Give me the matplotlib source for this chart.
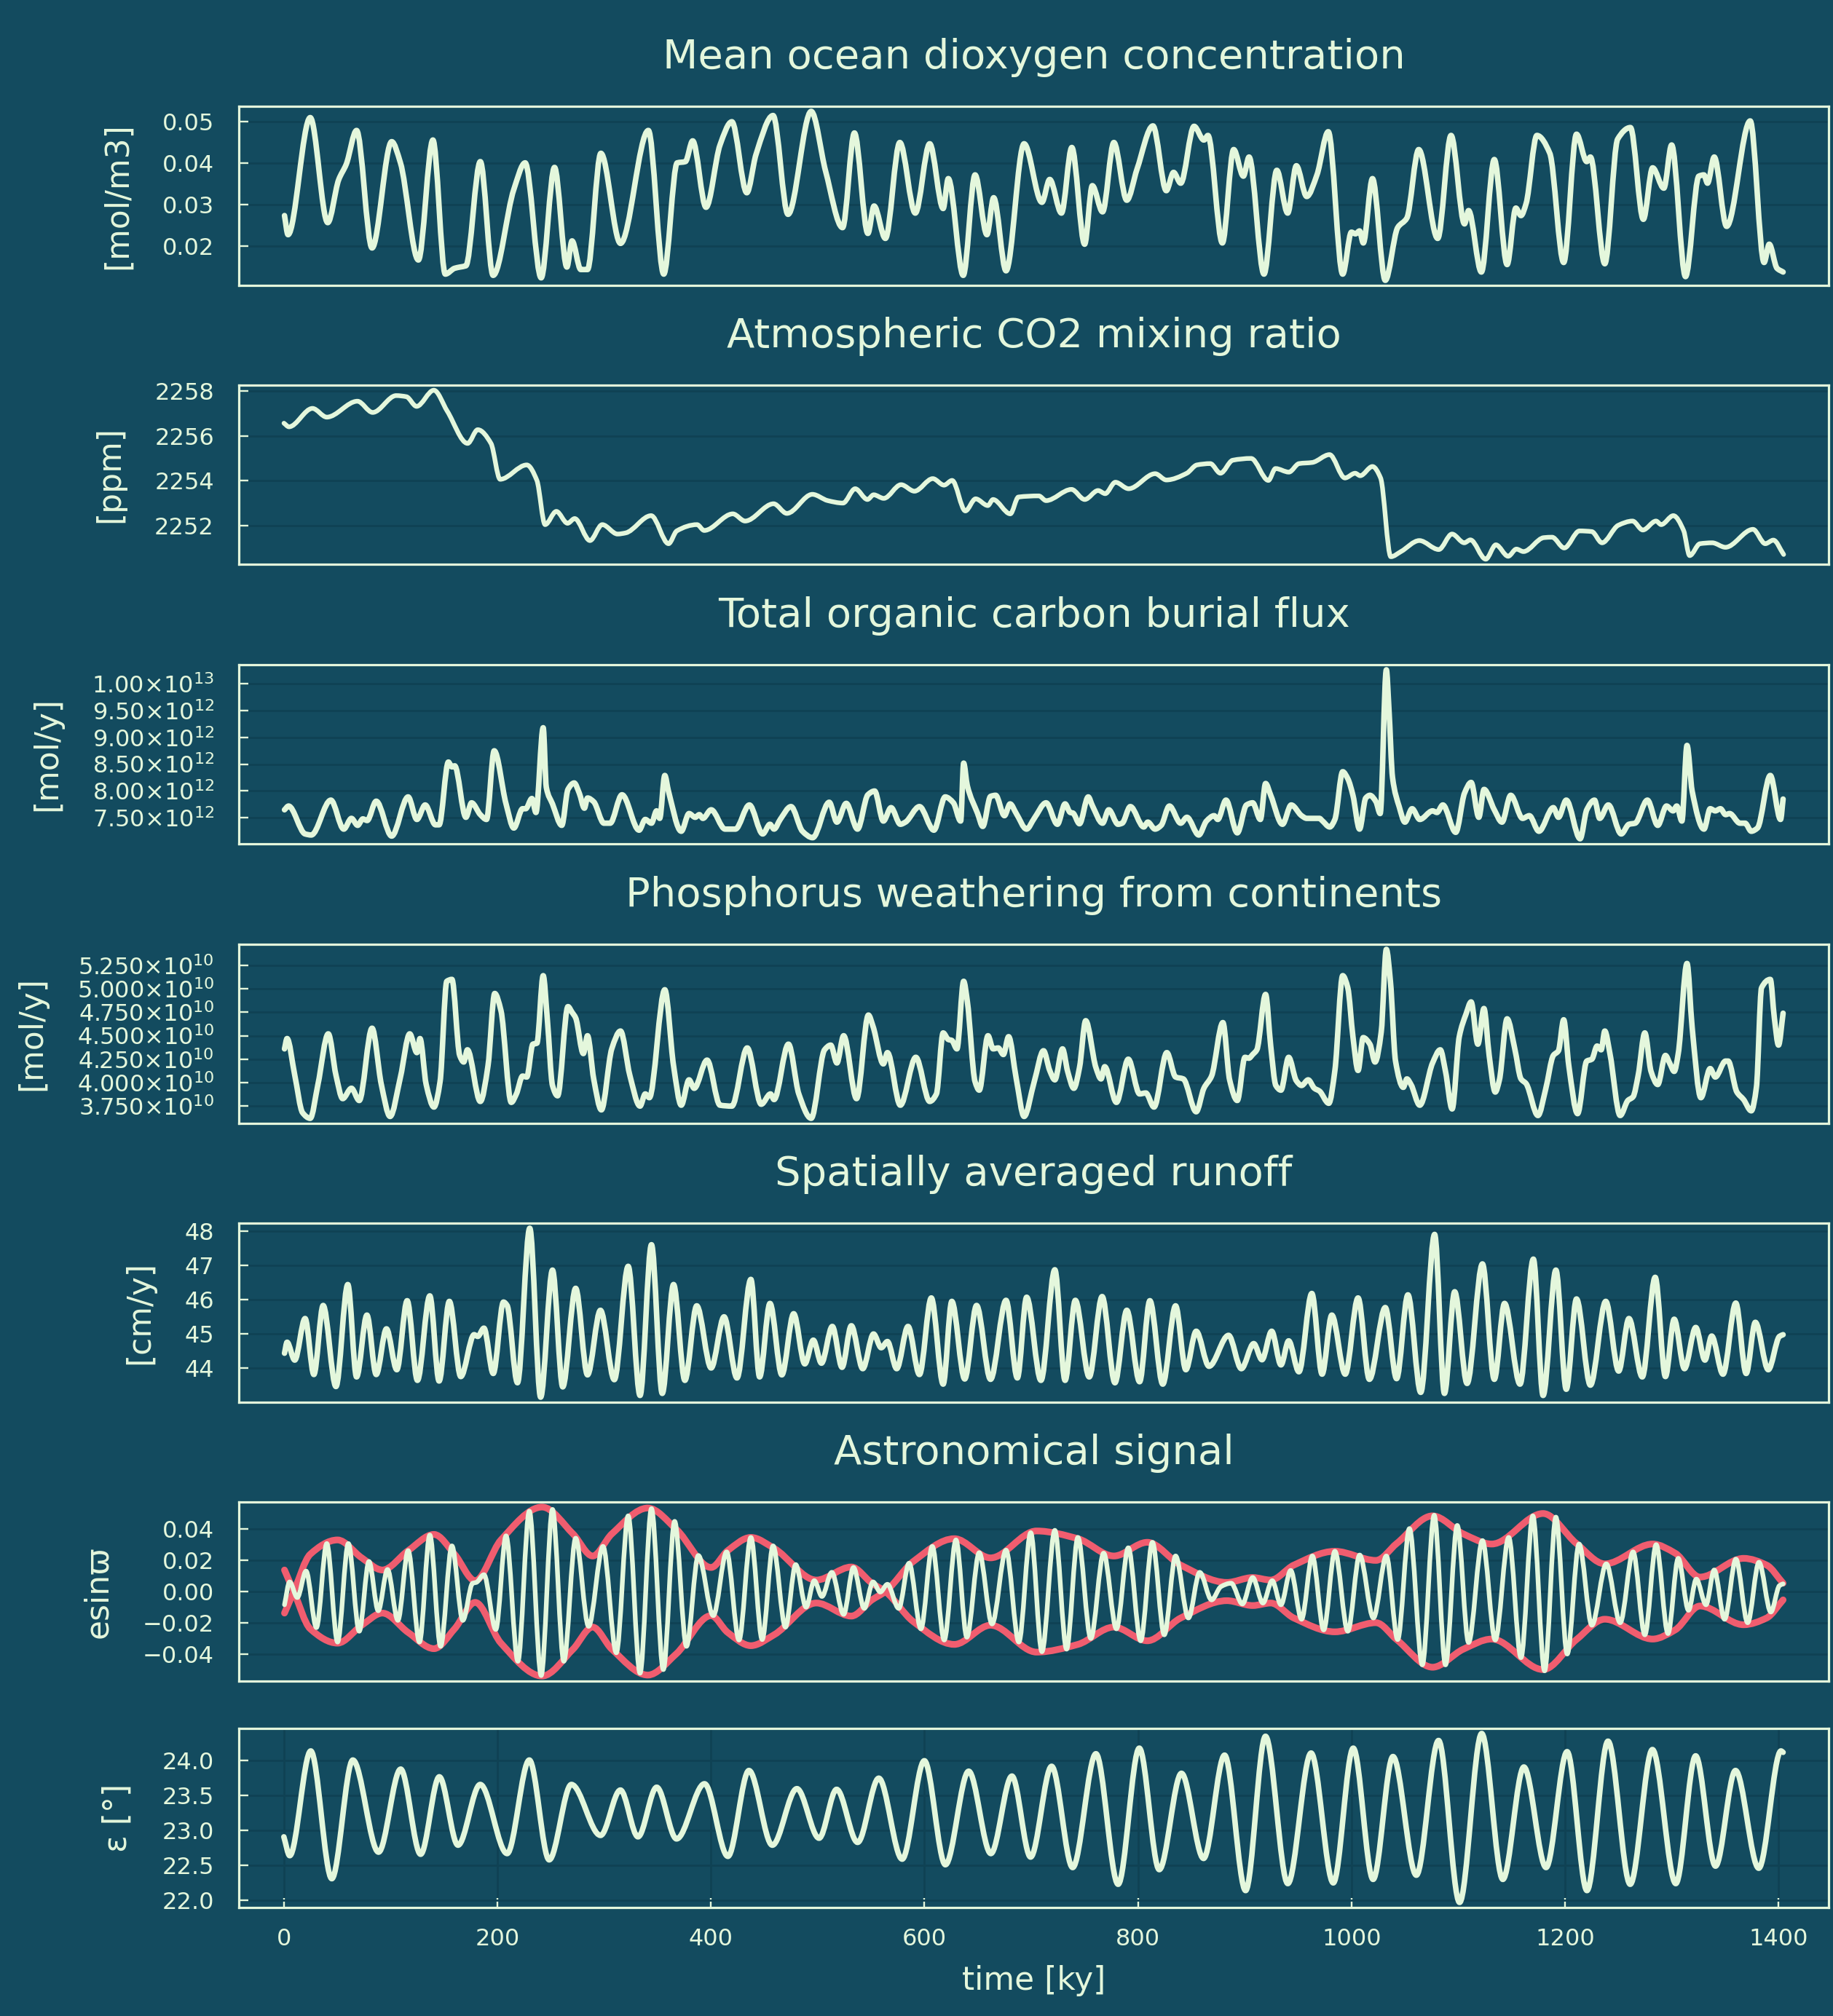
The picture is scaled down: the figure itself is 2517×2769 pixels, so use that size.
import numpy as np
import matplotlib
matplotlib.use("Agg")
import matplotlib.pyplot as plt
from matplotlib.ticker import FixedLocator, FuncFormatter
from matplotlib.path import Path
from matplotlib.patches import PathPatch

BG = '#134b5f'
FG = '#e4f7dc'
RED = '#f05d6f'
GRID = '#0f4254'

# ---- data (time in ky) ----
o2_t = [0.6, 3.9, 24.7, 41.1, 51.3, 58.5, 68.1, 82.6, 101.0, 109.2, 126.0, 139.6, 151.2, 159.9, 165.0, 170.5,
        184.0, 196.0, 215.4, 226.0, 241.0, 253.5, 265.1, 269.9, 278.1, 284.4, 296.9, 315.3, 341.4, 355.8, 368.4,
        376.1, 382.9, 395.4, 408.5, 419.6, 433.6, 442.2, 458.2, 472.2, 493.9, 507.4, 523.3, 534.4, 547.0, 552.8,
        563.4, 576.9, 591.4, 604.9, 617.5, 622.3, 636.3, 647.4, 658.5, 664.8, 676.4, 693.3, 710.0, 717.3, 728.3,
        738.0, 750.0, 757.2, 766.8, 777.4, 789.5, 799.1, 814.0, 826.5, 833.3, 840.0, 852.5, 861.7, 865.5, 879.0,
        889.6, 898.7, 904.0, 918.0, 930.0, 940.2, 948.3, 958.0, 967.6, 978.2, 991.7, 999.9, 1003.7, 1007.5,
        1011.0, 1019.6, 1031.6, 1043.2, 1051.8, 1062.9, 1080.7, 1093.2, 1105.8, 1109.6, 1121.6, 1133.7, 1145.7,
        1153.9, 1158.7, 1163.5, 1173.6, 1185.7, 1198.7, 1210.7, 1220.3, 1223.7, 1237.2, 1249.2, 1261.2, 1273.3,
        1282.0, 1292.5, 1299.8, 1312.8, 1325.3, 1330.0, 1333.4, 1339.7, 1351.3, 1373.4, 1386.4, 1391.2, 1398.5,
        1404.2]
o2_v = [0.0274, 0.0228, 0.0510, 0.0257, 0.0360, 0.0398, 0.0479, 0.0196, 0.0452, 0.0401, 0.0167, 0.0456, 0.0133,
        0.0147, 0.0150, 0.0153, 0.0404, 0.0130, 0.0337, 0.0401, 0.0124, 0.0390, 0.0150, 0.0213, 0.0144, 0.0144,
        0.0424, 0.0207, 0.0479, 0.0133, 0.0401, 0.0404, 0.0454, 0.0294, 0.0444, 0.0500, 0.0329, 0.0421, 0.0515,
        0.0277, 0.0525, 0.0381, 0.0245, 0.0473, 0.0231, 0.0297, 0.0219, 0.0450, 0.0280, 0.0447, 0.0291, 0.0363,
        0.0130, 0.0372, 0.0228, 0.0317, 0.0141, 0.0447, 0.0306, 0.0361, 0.0280, 0.0438, 0.0205, 0.0346, 0.0283,
        0.0450, 0.0311, 0.0386, 0.0490, 0.0334, 0.0378, 0.0352, 0.0489, 0.0456, 0.0467, 0.0208, 0.0433, 0.0369,
        0.0415, 0.0133, 0.0383, 0.0280, 0.0394, 0.0320, 0.0372, 0.0476, 0.0133, 0.0234, 0.0230, 0.0237, 0.0208,
        0.0363, 0.0118, 0.0245, 0.0268, 0.0433, 0.0219, 0.0467, 0.0254, 0.0286, 0.0138, 0.0409, 0.0156, 0.0292,
        0.0274, 0.0303, 0.0467, 0.0424, 0.0161, 0.0470, 0.0404, 0.0415, 0.0158, 0.0458, 0.0486, 0.0265, 0.0389,
        0.0340, 0.0444, 0.0127, 0.0369, 0.0372, 0.0352, 0.0415, 0.0248, 0.0502, 0.0161, 0.0205, 0.0147, 0.0138]

co2_t = [0.1, 4.8, 26.8, 40.2, 68.9, 83.2, 105.2, 114.8, 124.3, 140.5, 153.0, 172.1, 181.6, 194.0, 202.6, 227.5,
         237.0, 244.7, 255.2, 265.7, 272.4, 286.7, 298.2, 312.5, 320.1, 344.0, 360.3, 368.0, 387.0, 393.7, 420.5,
         432.0, 458.7, 471.1, 495.0, 509.4, 523.7, 535.1, 546.6, 552.4, 561.9, 578.1, 590.6, 607.8, 618.3, 625.9,
         638.3, 647.9, 659.4, 664.2, 680.4, 688.0, 707.1, 713.9, 737.7, 750.1, 762.6, 769.3, 778.8, 791.2, 816.1,
         826.5, 845.7, 855.2, 867.7, 877.2, 888.7, 905.9, 922.1, 928.8, 941.3, 950.8, 963.2, 979.4, 993.8, 1003.4,
         1008.1, 1019.6, 1027.2, 1036.8, 1046.3, 1063.5, 1081.7, 1094.1, 1105.6, 1111.3, 1125.7, 1135.2, 1146.7,
         1154.4, 1161.0, 1180.1, 1187.8, 1199.2, 1213.5, 1225.0, 1234.6, 1249.8, 1263.2, 1272.8, 1285.2, 1290.0,
         1301.4, 1311.0, 1316.7, 1326.3, 1337.8, 1350.2, 1376.0, 1387.5, 1395.1, 1404.7]
co2_v = [2256.56, 2256.40, 2257.22, 2256.83, 2257.54, 2257.04, 2257.79, 2257.74, 2257.31, 2258.03, 2257.10,
         2255.66, 2256.27, 2255.66, 2254.06, 2254.70, 2254.01, 2252.04, 2252.63, 2252.10, 2252.31, 2251.33,
         2252.04, 2251.62, 2251.67, 2252.44, 2251.19, 2251.76, 2252.04, 2251.78, 2252.52, 2252.20, 2252.97,
         2252.54, 2253.39, 2253.11, 2253.00, 2253.64, 2253.16, 2253.37, 2253.21, 2253.82, 2253.53, 2254.09,
         2253.80, 2254.01, 2252.65, 2253.19, 2252.89, 2253.16, 2252.52, 2253.27, 2253.32, 2253.11, 2253.61,
         2253.16, 2253.56, 2253.42, 2253.93, 2253.64, 2254.31, 2254.03, 2254.33, 2254.70, 2254.76, 2254.33,
         2254.91, 2254.99, 2254.01, 2254.54, 2254.38, 2254.76, 2254.81, 2255.16, 2254.12, 2254.33, 2254.22,
         2254.63, 2254.12, 2250.61, 2250.84, 2251.33, 2250.93, 2251.62, 2251.23, 2251.36, 2250.50, 2251.14,
         2250.63, 2250.95, 2250.84, 2251.46, 2251.48, 2251.00, 2251.76, 2251.73, 2251.23, 2252.01, 2252.20,
         2251.80, 2252.20, 2252.04, 2252.44, 2251.78, 2250.66, 2251.19, 2251.23, 2251.03, 2251.83, 2251.19,
         2251.35, 2250.71]

# organic carbon burial, units of 1e12 mol/y
burial_t = [0.6, 4.4, 19.9, 25.7, 44.0, 56.1, 63.3, 69.1, 74.0, 78.0, 86.5, 101.0, 116.4, 124.6, 132.4, 142.0,
            145.4, 154.1, 157.4, 160.0, 170.5, 175.8, 184.0, 189.8, 197.0, 208.1, 215.4, 223.6, 226.5, 232.3,
            236.1, 242.9, 245.8, 251.6, 260.3, 266.1, 271.9, 276.7, 281.5, 284.4, 290.2, 299.8, 305.6, 316.7,
            332.7, 338.5, 344.3, 349.1, 352.0, 356.8, 360.2, 372.2, 379.5, 385.3, 389.1, 392.5, 400.2, 413.3,
            422.9, 436.0, 448.5, 455.3, 459.1, 464.9, 475.0, 485.7, 495.3, 510.8, 518.0, 526.7, 537.3, 547.0,
            553.3, 561.5, 568.7, 577.4, 582.2, 595.3, 608.8, 619.4, 627.1, 633.9, 636.7, 640.1, 649.8, 654.6,
            661.9, 666.7, 674.9, 680.2, 686.0, 695.6, 702.8, 713.9, 724.5, 731.7, 736.5, 739.0, 745.2, 753.4,
            757.2, 766.8, 772.6, 781.3, 785.2, 792.8, 805.4, 809.2, 815.9, 821.7, 829.4, 840.0, 845.8, 856.9,
            864.1, 871.3, 874.7, 882.4, 893.0, 901.6, 907.4, 914.6, 919.5, 924.3, 935.3, 943.5, 953.2, 958.0,
            970.0, 972.4, 979.6, 984.4, 991.7, 996.5, 1001.3, 1007.5, 1013.3, 1017.2, 1022.9, 1026.8, 1032.6,
            1035.0, 1038.4, 1044.6, 1050.0, 1056.7, 1063.9, 1075.9, 1080.0, 1085.5, 1097.6, 1105.8, 1112.0,
            1119.2, 1124.1, 1133.7, 1140.9, 1149.1, 1160.2, 1166.5, 1175.5, 1189.0, 1193.8, 1201.1, 1214.1,
            1220.3, 1227.6, 1232.4, 1240.5, 1252.6, 1259.8, 1265.6, 1277.1, 1286.8, 1295.0, 1301.2, 1304.6,
            1309.4, 1314.2, 1319.0, 1330.1, 1335.9, 1340.7, 1345.5, 1350.3, 1354.1, 1363.8, 1368.6, 1374.4,
            1380.2, 1392.2, 1401.8, 1404.2]
burial_v = [7.65, 7.72, 7.20, 7.18, 7.83, 7.29, 7.49, 7.36, 7.48, 7.45, 7.81, 7.16, 7.89, 7.47, 7.74, 7.37,
            7.37, 8.54, 8.45, 8.47, 7.51, 7.78, 7.56, 7.47, 8.75, 7.76, 7.31, 7.67, 7.67, 7.86, 7.60, 9.18, 8.07,
            7.76, 7.36, 8.03, 8.15, 7.96, 7.68, 7.87, 7.80, 7.40, 7.40, 7.93, 7.27, 7.47, 7.40, 7.63, 7.49, 8.29,
            8.00, 7.25, 7.58, 7.51, 7.56, 7.49, 7.65, 7.29, 7.29, 7.74, 7.20, 7.38, 7.29, 7.47, 7.71, 7.25, 7.13,
            7.79, 7.42, 7.77, 7.29, 7.93, 8.00, 7.44, 7.69, 7.38, 7.42, 7.71, 7.27, 7.89, 7.78, 7.44, 8.52, 8.10,
            7.58, 7.34, 7.90, 7.92, 7.54, 7.76, 7.58, 7.29, 7.49, 7.78, 7.38, 7.76, 7.60, 7.59, 7.39, 7.89, 7.73,
            7.40, 7.65, 7.38, 7.40, 7.71, 7.33, 7.42, 7.29, 7.36, 7.72, 7.40, 7.51, 7.18, 7.44, 7.54, 7.47, 7.83,
            7.22, 7.74, 7.78, 7.47, 8.14, 7.92, 7.38, 7.74, 7.54, 7.49, 7.49, 7.45, 7.33, 7.47, 8.36, 8.23, 7.92,
            7.29, 7.87, 7.92, 7.80, 7.58, 10.26, 9.54, 8.25, 7.71, 7.42, 7.67, 7.47, 7.63, 7.60, 7.74, 7.23, 7.96,
            8.16, 7.51, 8.03, 7.65, 7.42, 7.92, 7.49, 7.54, 7.25, 7.69, 7.51, 7.83, 7.11, 7.65, 7.83, 7.49, 7.74,
            7.20, 7.38, 7.40, 7.83, 7.36, 7.72, 7.63, 7.72, 7.44, 8.85, 8.00, 7.29, 7.67, 7.63, 7.67, 7.56, 7.58,
            7.40, 7.40, 7.25, 7.31, 8.29, 7.47, 7.85]

# phosphorus weathering, units of 1e10 mol/y
pw_t = [0.6, 3.0, 10.2, 17.5, 24.7, 31.9, 41.6, 48.8, 55.1, 63.3, 70.6, 82.6, 91.3, 99.5, 109.2, 117.9, 124.6,
        127.5, 133.3, 140.6, 146.3, 152.6, 157.4, 164.7, 168.5, 171.9, 184.0, 191.2, 197.5, 203.3, 213.0, 217.8,
        223.6, 227.5, 233.2, 237.0, 242.9, 246.8, 251.6, 256.4, 266.1, 269.9, 273.3, 280.5, 284.4, 290.2, 297.4,
        307.1, 315.3, 324.0, 333.6, 338.5, 342.3, 356.8, 365.0, 372.2, 379.5, 384.3, 396.4, 408.5, 419.6, 434.0,
        447.1, 455.8, 459.1, 472.6, 482.3, 493.9, 506.4, 512.2, 518.0, 524.3, 536.4, 547.5, 551.8, 561.5, 565.3,
        577.4, 591.9, 604.9, 611.2, 617.5, 622.3, 625.6, 630.4, 636.7, 640.1, 647.4, 651.3, 659.5, 664.3, 669.1,
        673.9, 678.8, 686.0, 693.3, 702.8, 711.5, 717.3, 722.1, 729.3, 734.1, 739.9, 745.2, 751.0, 760.6, 765.4,
        768.8, 779.8, 790.9, 801.5, 807.3, 815.0, 827.0, 835.2, 842.4, 854.5, 861.7, 868.9, 879.5, 885.8, 893.0,
        900.2, 903.8, 907.4, 911.3, 919.5, 924.3, 929.1, 933.9, 941.1, 948.3, 953.2, 959.4, 965.2, 970.0, 978.7,
        984.4, 991.7, 996.5, 1001.3, 1006.1, 1010.9, 1017.2, 1022.0, 1027.8, 1032.6, 1036.4, 1041.2, 1048.5,
        1051.8, 1055.7, 1063.9, 1075.9, 1083.1, 1088.0, 1094.2, 1100.9, 1107.2, 1112.0, 1118.3, 1124.0, 1128.9,
        1134.6, 1138.5, 1145.7, 1152.9, 1158.7, 1163.5, 1174.6, 1181.8, 1189.0, 1193.8, 1198.7, 1203.5, 1211.7,
        1220.3, 1225.1, 1230.0, 1233.8, 1237.2, 1242.0, 1251.6, 1258.8, 1263.7, 1268.5, 1274.7, 1280.5, 1286.8,
        1294.0, 1298.3, 1302.2, 1306.0, 1314.2, 1319.0, 1327.2, 1335.9, 1340.7, 1350.3, 1352.7, 1360.9, 1367.2,
        1374.4, 1379.2, 1384.0, 1392.2, 1396.0, 1399.9, 1404.2]
pw_v = [4.36, 4.47, 4.08, 3.68, 3.62, 3.98, 4.52, 4.08, 3.83, 3.94, 3.81, 4.58, 3.98, 3.64, 4.06, 4.52, 4.32,
        4.47, 3.98, 3.74, 4.01, 5.08, 5.10, 4.29, 4.22, 4.35, 3.80, 4.18, 4.95, 4.77, 3.79, 3.88, 4.07, 4.06,
        4.41, 4.42, 5.14, 4.67, 3.97, 3.86, 4.81, 4.75, 4.69, 4.31, 4.50, 4.04, 3.71, 4.36, 4.55, 4.08, 3.75,
        3.88, 3.84, 4.99, 4.18, 3.76, 4.03, 3.94, 4.24, 3.76, 3.75, 4.37, 3.77, 3.88, 3.82, 4.41, 3.88, 3.62,
        4.35, 4.40, 4.21, 4.50, 3.83, 4.72, 4.60, 4.20, 4.32, 3.76, 4.27, 3.80, 3.88, 4.53, 4.46, 4.45, 4.36,
        5.08, 4.87, 4.01, 3.92, 4.50, 4.36, 4.37, 4.30, 4.49, 4.04, 3.64, 4.01, 4.34, 4.13, 4.03, 4.36, 4.12,
        3.94, 4.16, 4.66, 4.16, 4.04, 4.17, 3.79, 4.25, 3.88, 3.89, 3.74, 4.32, 4.06, 4.04, 3.69, 3.94, 4.07,
        4.64, 4.03, 3.81, 4.27, 4.26, 4.30, 4.35, 4.94, 4.39, 3.97, 3.92, 4.27, 4.02, 3.97, 4.03, 3.94, 3.91,
        3.78, 4.13, 5.14, 5.01, 4.49, 4.13, 4.48, 4.41, 4.22, 4.54, 5.42, 5.08, 4.23, 3.95, 4.04, 3.98, 3.76,
        4.21, 4.35, 4.12, 3.72, 4.49, 4.73, 4.86, 4.41, 4.79, 4.29, 3.90, 4.03, 4.68, 4.36, 4.04, 3.99, 3.65,
        3.93, 4.29, 4.34, 4.67, 4.18, 3.67, 4.23, 4.25, 4.39, 4.35, 4.55, 4.31, 3.65, 3.81, 3.85, 4.08, 4.53,
        4.12, 3.98, 4.29, 4.20, 4.12, 4.31, 5.27, 4.59, 3.84, 4.15, 4.06, 4.23, 4.23, 3.90, 3.82, 3.70, 3.95,
        5.01, 5.10, 4.69, 4.40, 4.74]

runoff_t = [0.6, 3.0, 10.2, 19.9, 28.1, 36.8, 48.8, 59.9, 68.1, 77.8, 86.5, 96.1, 105.8, 115.5, 125.1, 136.7,
            145.4, 155.0, 165.7, 178.2, 181.6, 187.4, 196.1, 205.7, 209.1, 218.8, 230.3, 240.5, 251.6, 261.2,
            273.3, 284.4, 296.5, 309.5, 322.5, 333.6, 344.3, 354.4, 365.0, 375.6, 386.7, 400.2, 412.3, 424.4,
            437.4, 445.6, 455.3, 466.4, 477.5, 487.9, 495.9, 503.5, 513.7, 522.8, 531.5, 542.2, 552.3, 559.5,
            565.3, 574.0, 584.6, 595.3, 606.4, 617.5, 625.6, 637.7, 648.8, 661.9, 676.4, 687.0, 695.7, 709.1,
            722.1, 731.7, 741.3, 754.3, 766.4, 778.4, 789.5, 801.5, 811.1, 823.2, 835.2, 844.8, 854.5, 866.5,
            884.8, 896.8, 908.4, 916.1, 925.2, 933.9, 941.1, 950.7, 962.8, 972.4, 981.5, 994.1, 1006.1, 1016.7,
            1031.6, 1042.2, 1052.8, 1064.8, 1077.8, 1087.0, 1096.6, 1108.2, 1122.6, 1133.7, 1143.3, 1157.8,
            1170.3, 1179.4, 1191.4, 1201.1, 1210.7, 1223.7, 1238.1, 1250.2, 1259.8, 1272.3, 1284.4, 1294.0,
            1302.2, 1311.8, 1322.4, 1331.0, 1337.3, 1347.9, 1359.9, 1369.6, 1378.2, 1390.3, 1400.8, 1404.2]
runoff_v = [44.44, 44.76, 44.24, 45.45, 43.82, 45.83, 43.47, 46.44, 43.75, 45.55, 43.82, 45.15, 43.96, 45.97,
            43.65, 46.11, 43.63, 45.95, 43.76, 44.98, 44.93, 45.17, 43.85, 45.93, 45.83, 43.58, 48.08, 43.16,
            46.86, 43.46, 46.33, 43.81, 45.69, 43.67, 46.97, 43.21, 47.60, 43.27, 46.44, 43.65, 45.82, 44.01,
            45.50, 43.72, 46.59, 43.75, 45.89, 43.81, 45.59, 44.13, 44.82, 44.15, 45.22, 44.03, 45.24, 43.99,
            45.00, 44.60, 44.78, 43.99, 45.22, 43.82, 46.05, 43.54, 45.95, 43.69, 45.83, 43.68, 45.98, 43.72,
            46.07, 43.65, 46.87, 43.65, 45.98, 43.75, 46.09, 43.58, 45.69, 43.61, 45.97, 43.54, 45.82, 43.96,
            45.08, 44.06, 44.96, 43.99, 44.72, 44.25, 45.08, 44.10, 44.80, 43.90, 46.18, 43.83, 45.55, 43.83,
            46.05, 43.68, 45.77, 43.70, 46.14, 43.30, 47.90, 43.27, 46.23, 43.56, 47.04, 43.68, 45.89, 43.54,
            47.18, 43.21, 46.86, 43.39, 46.02, 43.51, 45.95, 43.92, 45.45, 43.75, 46.65, 43.76, 45.43, 43.99,
            45.19, 44.24, 44.94, 43.83, 45.90, 43.85, 45.34, 43.96, 44.93, 44.98]

esin_t = [0.6, 5.4, 12.6, 20.8, 30.5, 40.2, 50.3, 60.4, 70.6, 79.7, 88.4, 97.1, 106.8, 116.4, 127.0, 136.7,
          146.8, 157.4, 167.6, 176.8, 180.2, 187.4, 198.5, 208.1, 219.2, 229.9, 241.0, 251.6, 262.2, 273.3,
          285.4, 298.9, 311.4, 322.5, 333.6, 344.3, 355.4, 366.0, 377.1, 388.2, 402.2, 414.7, 426.3, 437.4,
          448.0, 458.2, 469.8, 479.4, 489.1, 496.8, 504.0, 513.2, 524.3, 533.5, 543.6, 551.8, 558.6, 565.3,
          575.9, 585.6, 596.7, 607.3, 618.5, 629.5, 639.7, 651.3, 663.3, 676.4, 688.4, 699.5, 710.0, 722.1,
          733.1, 743.7, 755.8, 767.8, 779.8, 790.9, 802.5, 813.5, 824.6, 835.2, 847.2, 857.8, 868.9, 877.6,
          887.2, 897.8, 907.4, 917.0, 925.7, 933.9, 943.0, 953.2, 963.3, 973.9, 984.4, 996.5, 1007.6, 1020.5,
          1032.6, 1043.2, 1054.2, 1066.3, 1077.4, 1088.0, 1099.0, 1109.6, 1122.6, 1134.6, 1147.2, 1158.7,
          1169.8, 1180.8, 1191.4, 1202.0, 1213.1, 1225.1, 1238.6, 1251.6, 1263.7, 1274.7, 1285.3, 1296.4,
          1306.0, 1315.6, 1322.9, 1332.0, 1339.7, 1349.4, 1360.0, 1371.0, 1381.6, 1392.7, 1400.8, 1404.2]
esin_v = [-0.0084, 0.0061, -0.0038, 0.0130, -0.0229, 0.0305, -0.0321, 0.0305, -0.0252, 0.0191, -0.0122, 0.0140,
          -0.0183, 0.0260, -0.0321, 0.0359, -0.0348, 0.0290, -0.0183, 0.0053, 0.0058, 0.0107, -0.0241, 0.0354,
          -0.0443, 0.0511, -0.0534, 0.0522, -0.0443, 0.0339, -0.0221, 0.0287, -0.0389, 0.0481, -0.0519, 0.0527,
          -0.0496, 0.0446, -0.0348, 0.0229, -0.0153, 0.0252, -0.0308, 0.0344, -0.0305, 0.0290, -0.0226, 0.0171,
          -0.0099, 0.0069, -0.0031, 0.0122, -0.0145, 0.0153, -0.0107, 0.0061, -0.0003, 0.0046, -0.0107, 0.0180,
          -0.0237, 0.0287, -0.0308, 0.0328, -0.0290, 0.0247, -0.0206, 0.0263, -0.0321, 0.0374, -0.0382, 0.0389,
          -0.0366, 0.0344, -0.0298, 0.0244, -0.0237, 0.0278, -0.0313, 0.0313, -0.0275, 0.0226, -0.0168, 0.0122,
          -0.0053, 0.0031, 0.0053, -0.0079, 0.0089, -0.0073, 0.0069, -0.0084, 0.0134, -0.0176, 0.0226, -0.0244,
          0.0256, -0.0252, 0.0232, -0.0168, 0.0226, -0.0305, 0.0400, -0.0466, 0.0485, -0.0466, 0.0420, -0.0324,
          0.0324, -0.0308, 0.0344, -0.0420, 0.0481, -0.0504, 0.0473, -0.0397, 0.0302, -0.0214, 0.0176, -0.0198,
          0.0252, -0.0275, 0.0298, -0.0267, 0.0211, -0.0119, 0.0079, -0.0084, 0.0137, -0.0176, 0.0206, -0.0198,
          0.0186, -0.0130, 0.0038, 0.0049]

# signed eccentricity envelope (drawn as +env and -env)
env_t = [0.6, 9.3, 24.7, 50.3, 73.0, 92.3, 116.4, 140.6, 159.9, 179.2, 203.3, 241.9, 270.9, 289.2, 307.1, 340.9,
         367.4, 400.2, 415.7, 437.4, 459.1, 498.7, 531.5, 550.8, 563.4, 589.5, 628.0, 661.9, 705.0, 743.7, 777.4,
         808.7, 840.0, 883.3, 907.4, 924.3, 945.9, 984.4, 1022.9, 1042.2, 1075.9, 1104.8, 1131.3, 1179.4,
         1210.7, 1237.2, 1282.0, 1303.1, 1326.3, 1367.2, 1388.8, 1404.2]
env_v = [-0.0137, 0.0, 0.0237, 0.0328, 0.0214, 0.0137, 0.0260, 0.0363, 0.0237, 0.0069, 0.0328, 0.0537, 0.0366,
         0.0226, 0.0366, 0.0531, 0.0397, 0.0153, 0.0260, 0.0344, 0.0275, 0.0073, 0.0156, 0.0053, 0.0, -0.0191,
         -0.0336, -0.0214, -0.0385, -0.0336, -0.0226, -0.0313, -0.0168, -0.0058, -0.0089, -0.0073, -0.0168,
         -0.0256, -0.0198, -0.0305, -0.0481, -0.0366, -0.0302, -0.0496, -0.0305, -0.0176, -0.0302, -0.0244,
         -0.0092, -0.0211, -0.0168, -0.0053]

obl_t = [0.0, 5.5, 25.2, 44.9, 64.6, 88.7, 109.4, 128.1, 145.6, 163.1, 183.9, 209.1, 229.9, 248.5, 269.3, 296.6,
         315.2, 331.7, 349.2, 367.8, 394.0, 415.9, 435.6, 457.5, 480.5, 501.3, 517.7, 537.4, 557.2, 579.1, 599.9,
         619.6, 641.4, 662.2, 681.9, 699.4, 719.1, 738.8, 760.6, 781.4, 801.2, 819.9, 840.7, 861.4, 881.1, 900.8,
         919.4, 940.3, 962.1, 982.9, 1001.6, 1020.2, 1038.8, 1060.7, 1081.5, 1101.2, 1121.9, 1141.7, 1161.4,
         1182.2, 1201.9, 1220.5, 1240.2, 1261.0, 1281.8, 1303.7, 1322.3, 1340.9, 1359.6, 1381.4, 1402.2, 1404.2]
obl_v = [22.91, 22.64, 24.14, 22.31, 24.01, 22.69, 23.88, 22.66, 23.77, 22.79, 23.66, 22.67, 24.01, 22.58, 23.66,
         22.93, 23.58, 22.91, 23.62, 22.88, 23.67, 22.63, 23.86, 22.79, 23.60, 22.89, 23.59, 22.83, 23.75, 22.59,
         24.00, 22.51, 23.85, 22.67, 23.78, 22.62, 23.92, 22.47, 24.10, 22.23, 24.18, 22.44, 23.82, 22.60, 24.08,
         22.14, 24.35, 22.24, 24.11, 22.25, 24.18, 22.30, 24.06, 22.36, 24.29, 21.97, 24.39, 22.30, 23.91, 22.47,
         24.13, 22.14, 24.28, 22.23, 24.16, 22.24, 24.07, 22.49, 23.86, 22.46, 24.14, 24.12]

titles = ["Mean ocean dioxygen concentration", "Atmospheric CO2 mixing ratio",
          "Total organic carbon burial flux", "Phosphorus weathering from continents",
          "Spatially averaged runoff", "Astronomical signal", None]
ylabels = ["[mol/m3]", "[ppm]", "[mol/y]", "[mol/y]", "[cm/y]", "esinϖ", "ε [°]"]
yticks = [[0.02, 0.03, 0.04, 0.05],
          [2252, 2254, 2256, 2258],
          [7.5e12, 8.0e12, 8.5e12, 9.0e12, 9.5e12, 1.0e13],
          [3.75e10, 4.0e10, 4.25e10, 4.5e10, 4.75e10, 5.0e10, 5.25e10],
          [44, 45, 46, 47, 48],
          [-0.04, -0.02, 0.0, 0.02, 0.04],
          [22.0, 22.5, 23.0, 23.5, 24.0]]
xticks = [0, 200, 400, 600, 800, 1000, 1200, 1400]


def sci(ndig):
    def f(v, pos):
        e = int(np.floor(np.log10(v) + 1e-9))
        return f"{v / 10**e:.{ndig}f}×10$^{{{e}}}$"
    return f


def fixed(nd):
    return lambda v, pos: f"{v:.{nd}f}".replace("-", "\u2212")


def smooth_line(ax, x, y, **kw):
    # draw the read points as one smooth path (cubic segments, flat at turning points)
    x = np.asarray(x, float)
    y = np.asarray(y, float)
    h = np.diff(x)
    d = np.diff(y) / h
    m = np.zeros_like(y)
    m[0], m[-1] = d[0], d[-1]
    for k in range(1, len(y) - 1):
        if d[k - 1] * d[k] > 0:
            w1 = 2 * h[k] + h[k - 1]
            w2 = h[k] + 2 * h[k - 1]
            m[k] = (w1 + w2) / (w1 / d[k - 1] + w2 / d[k])
    verts = [(x[0], y[0])]
    codes = [Path.MOVETO]
    for k in range(len(x) - 1):
        verts += [(x[k] + h[k] / 3, y[k] + m[k] * h[k] / 3),
                  (x[k + 1] - h[k] / 3, y[k + 1] - m[k + 1] * h[k] / 3),
                  (x[k + 1], y[k + 1])]
        codes += [Path.CURVE4] * 3
    ax.add_patch(PathPatch(Path(verts, codes), fill=False, capstyle='round',
                           joinstyle='round', **kw))


formatters = [fixed(2), fixed(0), sci(2), sci(3), fixed(0), fixed(2), fixed(1)]

series = [(o2_t, o2_v), (co2_t, co2_v),
          (burial_t, np.array(burial_v) * 1e12), (pw_t, np.array(pw_v) * 1e10),
          (runoff_t, runoff_v), (esin_t, esin_v), (obl_t, obl_v)]

# layout (pixels of the 2517x2769 canvas)
W, H = 2517, 2769
ax_left, ax_right = 328, 2511
ax_tops = [146, 529, 913, 1297, 1680, 2063, 2374]
ax_h = 246

plt.rcParams['font.family'] = ['DejaVu Sans']
plt.rcParams['mathtext.fontset'] = 'dejavusans'

DPI = 288
fig = plt.figure(figsize=(W / DPI, H / DPI), dpi=DPI, facecolor=BG)

all_t = np.concatenate([np.asarray(s[0]) for s in series])
tpad = 0.03 * (all_t.max() - all_t.min())
xlim = (all_t.min() - tpad, all_t.max() + tpad)

for i in range(7):
    rect = [ax_left / W, 1 - (ax_tops[i] + ax_h) / H, (ax_right - ax_left) / W, ax_h / H]
    ax = fig.add_axes(rect, facecolor=BG)
    t, v = series[i]
    v = np.asarray(v, float)
    allv = v
    if i == 5:
        ev = np.asarray(env_v)
        smooth_line(ax, env_t, ev, edgecolor=RED, lw=2.3)
        smooth_line(ax, env_t, -ev, edgecolor=RED, lw=2.3)
        allv = np.concatenate([v, ev, -ev])
        lw = 1.6
    elif i == 1:
        lw = 1.6
    else:
        lw = 1.9
    smooth_line(ax, t, v, edgecolor=FG, lw=lw)

    ypad = 0.03 * (allv.max() - allv.min())
    ax.set_ylim(allv.min() - ypad, allv.max() + ypad)
    ax.set_xlim(*xlim)

    ax.yaxis.set_major_locator(FixedLocator(yticks[i]))
    ax.yaxis.set_major_formatter(FuncFormatter(formatters[i]))
    ax.tick_params(axis='y', direction='in', length=3.2, width=0.6, color=FG,
                   labelcolor=FG, labelsize=8, pad=8.5)
    ax.grid(axis='y', color=GRID, lw=0.7)
    if i == 6:
        ax.set_xticks(xticks)
        ax.tick_params(axis='x', direction='in', length=3.2, width=0.6, color=FG,
                       labelcolor=FG, labelsize=8, pad=7)
        ax.grid(axis='x', color=GRID, lw=0.7)
        ax.set_xlabel("time [ky]", color=FG, fontsize=11, labelpad=5)
    else:
        ax.set_xticks([])
    ax.set_axisbelow(True)
    for sp in ax.spines.values():
        sp.set_color(FG)
        sp.set_linewidth(0.8)
    if titles[i]:
        ax.set_title(titles[i], color=FG, fontsize=14, pad=13)
    ax.set_ylabel(ylabels[i], color=FG, fontsize=11, labelpad=10)

fig.savefig("out.png", dpi=DPI, facecolor=BG)
